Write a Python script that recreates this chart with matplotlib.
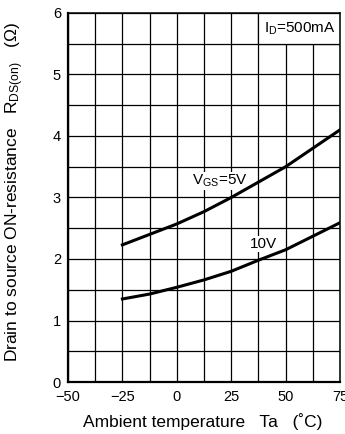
import matplotlib
matplotlib.use("Agg")
import matplotlib.pyplot as plt
from matplotlib.patches import Rectangle
import numpy as np

plt.rcParams['font.family'] = ['Liberation Sans', 'DejaVu Sans']
plt.rcParams['mathtext.fontset'] = 'custom'
plt.rcParams['mathtext.rm'] = 'Liberation Sans'
plt.rcParams['mathtext.it'] = 'Liberation Sans'

temps = [-25, -12.5, 0, 12.5, 25, 37.5, 50, 62.5, 75]
r_vgs5 = [2.23, 2.40, 2.57, 2.77, 3.00, 3.25, 3.50, 3.80, 4.10]
r_vgs10 = [1.35, 1.43, 1.54, 1.66, 1.80, 1.98, 2.15, 2.37, 2.59]
xticks = [-50, -25, 0, 25, 50, 75]
yticks = [0, 1, 2, 3, 4, 5, 6]

fig = plt.figure(figsize=(3.45, 4.34), dpi=100)
ax = fig.add_axes([68/345, 1-382/434, 272/345, 369/434])

ax.set_xlim(-50, 75)
ax.set_ylim(0, 6)
ax.set_xticks(xticks)
ax.set_yticks(yticks)
ax.set_xticks(np.arange(-50, 75.1, 12.5), minor=True)
ax.set_yticks(np.arange(0, 6.01, 0.5), minor=True)
ax.grid(which='both', color='black', linewidth=0.9)
ax.set_axisbelow(True)
ax.tick_params(which='both', length=0, labelsize=10.5)
ax.tick_params(axis='x', pad=6)
ax.tick_params(axis='y', pad=5)
for s in ax.spines.values():
    s.set_linewidth(1.1)
ax.spines['left'].set_linewidth(1.6)
ax.spines['bottom'].set_linewidth(1.6)

ax.plot(temps, r_vgs5, color='black', linewidth=2.2, zorder=3)
ax.plot(temps, r_vgs10, color='black', linewidth=2.2, zorder=3)

ax.add_patch(Rectangle((37.5, 5.5), 37.5, 0.5, facecolor='white',
                       edgecolor='black', linewidth=0.9, zorder=2))
ax.text(56.5, 5.75, r'I$_{\mathrm{D}}$=500mA', ha='center', va='center',
        fontsize=11, zorder=4)

ax.text(19.6, 3.27, r'V$_{\mathrm{GS}}$=5V', ha='center', va='center',
        fontsize=11, zorder=2.5,
        bbox=dict(facecolor='white', edgecolor='none', pad=0.5))
ax.text(40, 2.24, '10V', ha='center', va='center', fontsize=11, zorder=2.5,
        bbox=dict(facecolor='white', edgecolor='none', pad=0.5))

fig.text(202.5/345, 1-422/434, 'Ambient temperature   Ta   (˚C)',
         ha='center', va='center', fontsize=12.5)
fig.text(15/345, 1-192/434,
         r'Drain to source ON-resistance   R$_{\mathrm{DS(on)}}$   (Ω)',
         ha='center', va='center', rotation=90, fontsize=12.5)

fig.savefig('out.png', dpi=100)
